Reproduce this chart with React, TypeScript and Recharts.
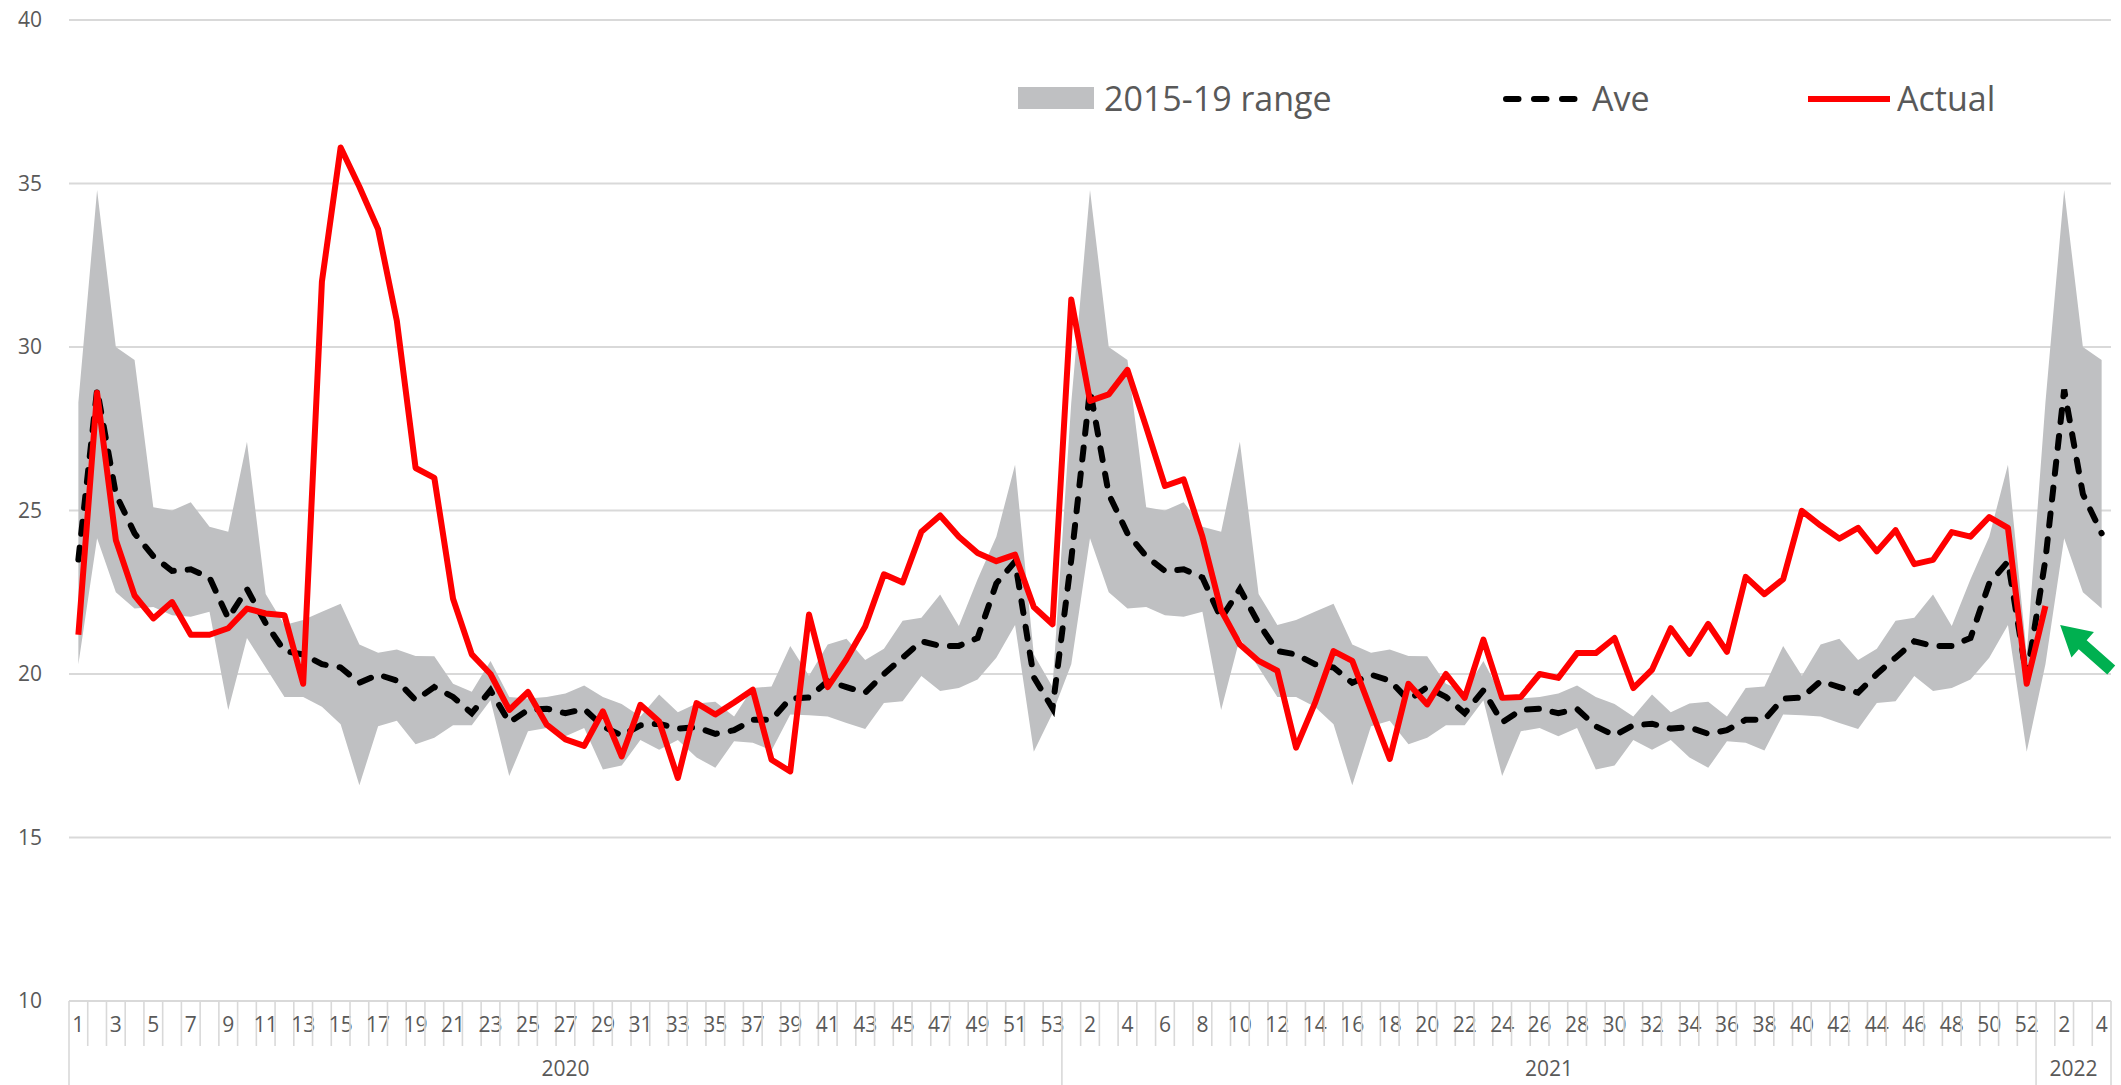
import React from 'react';
import {
  ComposedChart,
  Area,
  Line,
  XAxis,
  YAxis,
  CartesianGrid,
  Legend,
  ReferenceDot,
} from 'recharts';

// ---------- categories ----------
const years = ['2020', '2021', '2022'];
const weeksInYear = [53, 52, 4];

// ---------- 2015-19 weekly statistics (weeks 1..52) ----------
const aveByWeek = [
  23.5, 28.7, 25.5, 24.3, 23.6, 23.15, 23.2, 22.95, 21.7, 22.6,
  21.55, 20.7, 20.6, 20.3, 20.2, 19.73, 19.98, 19.8, 19.2, 19.6,
  19.3, 18.8, 19.5, 18.52, 18.9, 18.94, 18.8, 18.93, 18.4, 18.12,
  18.43, 18.48, 18.33, 18.37, 18.17, 18.28, 18.6, 18.6, 19.25, 19.28,
  19.78, 19.6, 19.43, 20.0, 20.5, 21.0, 20.86, 20.86, 21.1, 22.77,
  23.44, 19.9,
];
const maxByWeek = [
  28.3, 34.8, 30.0, 29.6, 25.1, 25.0, 25.25, 24.5, 24.35, 27.1,
  22.45, 21.5, 21.65, 21.9, 22.15, 20.9, 20.65, 20.75, 20.55, 20.54,
  19.7, 19.46, 20.4, 19.3, 19.25, 19.3, 19.4, 19.65, 19.3, 19.08,
  18.7, 19.37, 18.83, 19.1, 19.15, 18.7, 19.57, 19.62, 20.86, 19.95,
  20.9, 21.08, 20.43, 20.77, 21.63, 21.72, 22.43, 21.47, 22.9, 24.2,
  26.4, 20.6,
];
const minByWeek = [
  20.3, 24.15, 22.5, 22.0, 22.05, 21.8, 21.75, 21.9, 18.9, 21.1,
  20.2, 19.3, 19.3, 19.0, 18.46, 16.6, 18.4, 18.57, 17.85, 18.05,
  18.43, 18.43, 19.2, 16.88, 18.25, 18.35, 18.1, 18.35, 17.08, 17.2,
  17.98, 17.68, 17.98, 17.45, 17.13, 17.94, 17.9, 17.66, 18.76, 18.74,
  18.7, 18.5, 18.32, 19.11, 19.17, 19.94, 19.48, 19.57, 19.83, 20.5,
  21.5, 17.62,
];
// week 53 (only in 2020)
const week53 = { ave: 18.95, max: 19.6, min: 18.8 };

// ---------- actual values ----------
const actual2020 = [
  21.2, 28.6, 24.1, 22.4, 21.7, 22.2, 21.2, 21.2, 21.4, 22.0,
  21.85, 21.8, 19.7, 32.0, 36.1, 34.9, 33.6, 30.8, 26.3, 26.0,
  22.3, 20.6, 20.0, 18.9, 19.45, 18.45, 18.0, 17.8, 18.86, 17.48,
  19.06, 18.55, 16.82, 19.11, 18.76, 19.13, 19.52, 17.38, 17.02, 21.82,
  19.6, 20.45, 21.45, 23.05, 22.8, 24.35, 24.85, 24.2, 23.7, 23.45,
  23.65, 22.05, 21.52,
];
const actual2021 = [
  31.45, 28.35, 28.55, 29.3, 27.55, 25.75, 25.95, 24.2, 21.95, 20.9,
  20.4, 20.1, 17.75, 19.1, 20.7, 20.4, 18.9, 17.4, 19.7, 19.07,
  20.0, 19.27, 21.05, 19.27, 19.3, 20.0, 19.88, 20.64, 20.64, 21.1,
  19.57, 20.13, 21.4, 20.62, 21.53, 20.68, 22.97, 22.44, 22.9, 24.99,
  24.54, 24.14, 24.47, 23.75, 24.4, 23.36, 23.49, 24.34, 24.2, 24.8,
  24.47, 19.7,
];
const actual2022 = [22.08, null, null, null];
const actualByYear = [actual2020, actual2021, actual2022];

const yTicks = [10, 15, 20, 25, 30, 35, 40];
const arrowTarget = { key: '2022-2', value: 21.5 };

// ---------- table for the library ----------
type Row = {
  key: string;
  year: string;
  week: number;
  ave: number;
  range: [number, number];
  actual: number | null;
};
const rows: Row[] = [];
years.forEach((yr, yi) => {
  for (let w = 1; w <= weeksInYear[yi]; w++) {
    const is53 = w === 53;
    rows.push({
      key: `${yr}-${w}`,
      year: yr,
      week: w,
      ave: is53 ? week53.ave : aveByWeek[w - 1],
      range: is53 ? [week53.min, week53.max] : [minByWeek[w - 1], maxByWeek[w - 1]],
      actual: actualByYear[yi][w - 1] ?? null,
    });
  }
});
const rowByKey: Record<string, Row> = {};
rows.forEach((r) => (rowByKey[r.key] = r));
const indexByKey: Record<string, number> = {};
rows.forEach((r, i) => (indexByKey[r.key] = i));

// ---------- layout / style ----------
const W = 2121;
const H = 1085;
const MARGIN = { top: 20, right: 10, left: 0, bottom: 0 };
const YAXIS_W = 69;
const XAXIS_H = 84;
const PLOT_W = W - MARGIN.left - MARGIN.right - YAXIS_W;
const STEP = PLOT_W / rows.length;

const FONT = "'Open Sans', 'Noto Sans', sans-serif";
const TEXT = '#595959';
const GRID = '#d9d9d9';
const BAND = '#bfc0c2';
const RED = '#ff0000';
const GREEN = '#00b050';

const XTick = (props: any) => {
  const { x, y, payload } = props;
  const key = payload?.value;
  const row = rowByKey[key];
  if (!row) return null;
  const idx = indexByKey[key];
  const half = STEP / 2;
  const groupStart = row.week === 1;
  const last = idx === rows.length - 1;
  const els: React.ReactNode[] = [];
  els.push(
    <line
      key="b"
      x1={x - half}
      x2={x - half}
      y1={y}
      y2={y + (groupStart ? XAXIS_H : 45)}
      stroke={GRID}
      strokeWidth={1.6}
    />
  );
  if (last) {
    els.push(
      <line key="e" x1={x + half} x2={x + half} y1={y} y2={y + XAXIS_H} stroke={GRID} strokeWidth={1.6} />
    );
  }
  if (idx % 2 === 0) {
    els.push(
      <text
        key="t"
        x={x}
        y={y + 23}
        textAnchor="middle"
        dominantBaseline="central"
        fontFamily={FONT}
        fontSize={21}
        fill={TEXT}
      >
        {row.week}
      </text>
    );
  }
  if (groupStart) {
    const len = weeksInYear[years.indexOf(row.year)];
    const cx = x - half + (len * STEP) / 2;
    els.push(
      <text
        key="y"
        x={cx}
        y={y + 67}
        textAnchor="middle"
        dominantBaseline="central"
        fontFamily={FONT}
        fontSize={21}
        fill={TEXT}
      >
        {row.year}
      </text>
    );
  }
  return <g>{els}</g>;
};

const ArrowShape = (props: any) => {
  const { cx, cy } = props;
  if (cx == null || cy == null) return null;
  const tx = cx - 4;
  const ty = cy;
  const ux = 0.751;
  const uy = 0.661;
  const vx = -uy;
  const vy = ux;
  const head = 30;
  const hw = 17;
  const sw = 6;
  const len = 68;
  const p = (a: number, b: number) => `${tx + a * ux + b * vx},${ty + a * uy + b * vy}`;
  const pts = [p(0, 0), p(head, hw), p(head, sw), p(len, sw), p(len, -sw), p(head, -sw), p(head, -hw)].join(' ');
  return <polygon points={pts} fill={GREEN} />;
};

const LegendContent = () => (
  <div
    style={{
      position: 'relative',
      width: 1000,
      height: 40,
      fontFamily: FONT,
      fontSize: 34,
      lineHeight: '40px',
      color: TEXT,
      whiteSpace: 'nowrap',
    }}
  >
    <div style={{ position: 'absolute', left: 0, top: 9, width: 76, height: 22, background: BAND }} />
    <div style={{ position: 'absolute', left: 86, top: 0 }}>2015-19 range</div>
    <svg style={{ position: 'absolute', left: 485, top: 14 }} width={80} height={14}>
      <line
        x1={3}
        x2={71.5}
        y1={7}
        y2={7}
        stroke="#000"
        strokeWidth={6}
        strokeDasharray="12.5 15.5"
        strokeLinecap="round"
      />
    </svg>
    <div style={{ position: 'absolute', left: 574, top: 0 }}>Ave</div>
    <svg style={{ position: 'absolute', left: 790, top: 14 }} width={84} height={14}>
      <line x1={0} x2={82} y1={7} y2={7} stroke={RED} strokeWidth={6} />
    </svg>
    <div style={{ position: 'absolute', left: 879, top: 0 }}>Actual</div>
  </div>
);

export default function App() {
  return (
    <div style={{ position: 'absolute', left: 0, top: 0, width: W, height: H, background: '#fff' }}>
      <ComposedChart width={W} height={H} data={rows} margin={MARGIN}>
        <CartesianGrid horizontal vertical={false} stroke={GRID} strokeWidth={2} />
        <XAxis
          dataKey="key"
          type="category"
          interval={0}
          height={XAXIS_H}
          padding={{ left: STEP / 2, right: STEP / 2 }}
          tickLine={false}
          tickSize={0}
          tickMargin={0}
          axisLine={{ stroke: GRID, strokeWidth: 2 }}
          tick={<XTick />}
        />
        <YAxis
          type="number"
          domain={[10, 40]}
          ticks={yTicks}
          width={YAXIS_W}
          axisLine={false}
          tickLine={false}
          tickSize={0}
          tickMargin={27}
          tick={{ fontFamily: FONT, fontSize: 21, fill: TEXT }}
          allowDataOverflow
        />
        <Legend
          layout="horizontal"
          verticalAlign="middle"
          align="center"
          content={<LegendContent />}
          wrapperStyle={{ position: 'absolute', top: 78, left: 1018, width: 1000, height: 40 }}
        />
        <Area
          name="2015-19 range"
          dataKey="range"
          type="linear"
          stroke="none"
          fill={BAND}
          fillOpacity={1}
          isAnimationActive={false}
          activeDot={false}
        />
        <Line
          name="Ave"
          dataKey="ave"
          type="linear"
          stroke="#000"
          strokeWidth={6}
          strokeDasharray="12 14"
          strokeLinecap="round"
          dot={false}
          activeDot={false}
          isAnimationActive={false}
        />
        <Line
          name="Actual"
          dataKey="actual"
          type="linear"
          stroke={RED}
          strokeWidth={6}
          strokeLinejoin="round"
          dot={false}
          activeDot={false}
          connectNulls={false}
          isAnimationActive={false}
        />
        <ReferenceDot
          x={arrowTarget.key}
          y={arrowTarget.value}
          r={0}
          shape={<ArrowShape />}
          ifOverflow="visible"
        />
      </ComposedChart>
    </div>
  );
}
